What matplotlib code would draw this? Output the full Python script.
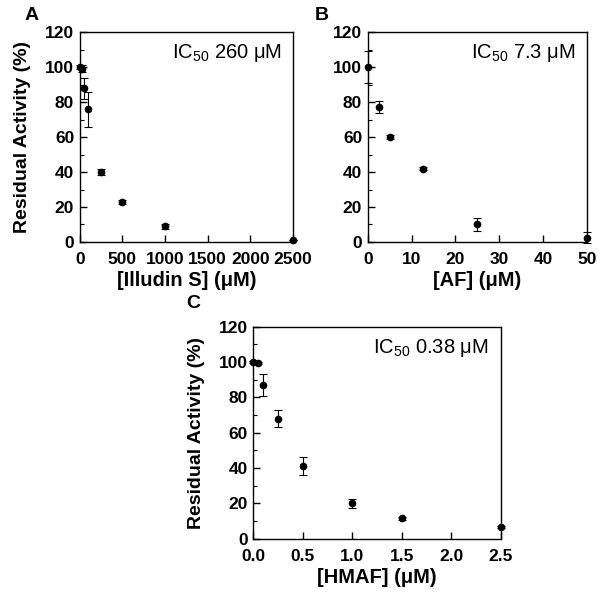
import matplotlib.pyplot as plt
from matplotlib.ticker import MultipleLocator, FormatStrFormatter

plt.rcParams['font.family'] = ['Liberation Sans', 'DejaVu Sans']

# Panel A - Illudin S
a_x = [0, 25, 50, 100, 250, 500, 1000, 2500]
a_y = [100, 99, 88, 76, 40, 23, 9, 1]
a_err = [1, 2, 6, 10, 1.5, 1, 1.5, 0]

# Panel B - AF
b_x = [0, 2.5, 5, 12.5, 25, 50]
b_y = [100, 77, 60, 42, 10, 2.5]
b_err = [9, 3.5, 1, 1, 4, 3]

# Panel C - HMAF
c_x = [0, 0.05, 0.1, 0.25, 0.5, 1.0, 1.5, 2.5]
c_y = [100, 99.5, 87, 68, 41, 20, 11.5, 6.5]
c_err = [0.5, 0.5, 6, 5, 5, 2.5, 1, 0.5]

fig = plt.figure(figsize=(6, 5.96), dpi=100)
axA = fig.add_axes([0.133, 0.594, 0.355, 0.352])
axB = fig.add_axes([0.613, 0.594, 0.365, 0.352])
axC = fig.add_axes([0.422, 0.096, 0.413, 0.356])


def style(ax, x, y, err, xmax, xstep, xlabel, ic50, letter, lx, ly,
          ylabel=True, fmt=None):
    ax.errorbar(x, y, yerr=err, fmt='o', color='black', ms=4.5, capsize=3,
                elinewidth=0.8, capthick=0.8, clip_on=False, zorder=3)
    ax.set_xlim(0, xmax)
    ax.set_ylim(0, 120)
    ax.xaxis.set_major_locator(MultipleLocator(xstep))
    if fmt:
        ax.xaxis.set_major_formatter(FormatStrFormatter(fmt))
    ax.yaxis.set_major_locator(MultipleLocator(20))
    ax.yaxis.set_minor_locator(MultipleLocator(10))
    ax.tick_params(direction='in', length=5, width=1, labelsize=12.5, pad=4)
    ax.tick_params(axis='x', pad=7)
    ax.tick_params(axis='y', which='minor', direction='in', length=3, width=0.8)
    for lab in ax.get_xticklabels() + ax.get_yticklabels():
        lab.set_fontweight('bold')
    for s in ax.spines.values():
        s.set_linewidth(1)
    ax.set_xlabel(xlabel, fontsize=14.5, fontweight='bold', labelpad=3)
    if ylabel:
        ax.set_ylabel('Residual Activity (%)', fontsize=14, fontweight='bold', labelpad=10)
    ax.text(0.95, 0.9, ic50, transform=ax.transAxes, ha='right', va='center', fontsize=14.5)
    ax.text(lx, ly, letter, transform=ax.transAxes, ha='left', va='center',
            fontsize=14, fontweight='bold')


style(axA, a_x, a_y, a_err, 2500, 500, '[Illudin S] (μM)',
      r'$\mathregular{IC_{50}}$ 260 μM', 'A', -0.26, 1.08)
style(axB, b_x, b_y, b_err, 50, 10, '[AF] (μM)',
      r'$\mathregular{IC_{50}}$ 7.3 μM', 'B', -0.24, 1.08, ylabel=False)
style(axC, c_x, c_y, c_err, 2.5, 0.5, '[HMAF] (μM)',
      r'$\mathregular{IC_{50}}$ 0.38 μM', 'C', -0.27, 1.11, fmt='%.1f')

fig.savefig('out.png', dpi=100)
